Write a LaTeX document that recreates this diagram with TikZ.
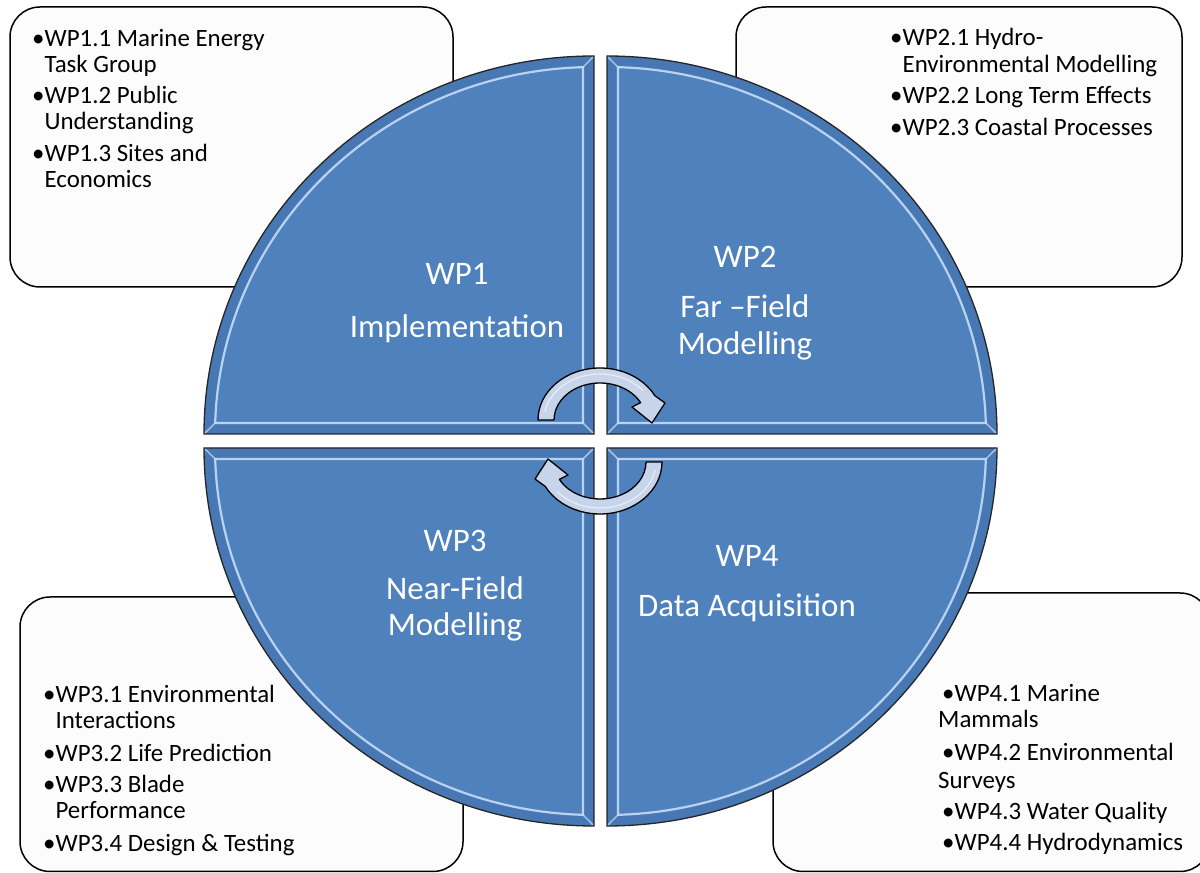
\documentclass[tikz,border=0pt]{standalone}
\usepackage{fontspec}
\setmainfont{Carlito}
\definecolor{qblue}{RGB}{79,129,189}
\definecolor{qrim}{RGB}{72,120,180}
\definecolor{qlight}{RGB}{205,226,250}
\definecolor{arrfill}{RGB}{200,212,233}
\definecolor{boxfill}{RGB}{252,252,252}
\begin{document}
\begin{tikzpicture}[x=1bp,y=1bp,
  boxst/.style={draw=black,line width=1.5bp,fill=boxfill,rounded corners=30bp},
  itm/.style={font=\fontsize{25}{30}\selectfont,anchor=base west,inner sep=0pt,text=black},
  lab/.style={font=\fontsize{33}{38}\selectfont,anchor=base,inner sep=0pt,text=white},
  quad/.pic={
    \fill[qrim] (0,0) -- (390,0) arc[start angle=0,end angle=90,x radius=390,y radius=378] -- cycle;
    \fill[qblue] (11,11) -- (1.717:379 and 367) arc[start angle=1.717,end angle=88.34,x radius=379,y radius=367] -- cycle;
    \draw[qlight,line width=2.2bp,opacity=0.85] (11,11) -- (1.717:379 and 367) arc[start angle=1.717,end angle=88.34,x radius=379,y radius=367] -- cycle;
    \draw[qlight,line width=1.5bp,opacity=0.7] (0,0) -- (11,11) (390,0) -- (1.717:379 and 367) (0,378) -- (88.34:379 and 367);
    \draw[black!85,line width=1.3bp] (0,0) -- (390,0) arc[start angle=0,end angle=90,x radius=390,y radius=378] -- cycle;
  },
  cyc/.pic={
    \filldraw[fill=arrfill,draw=black,line width=1.3bp,line join=round]
      (180:62 and 52) arc[start angle=180,end angle=28,x radius=62,y radius=52]
      -- (65,17) -- (52,-3) -- (32,13) -- (28:46 and 37)
      arc[start angle=28,end angle=180,x radius=46,y radius=37] -- cycle;
    \draw[white,line width=1.2bp,opacity=0.6]
      (170:56 and 46) arc[start angle=170,end angle=40,x radius=56,y radius=46];
  }]
\useasboundingbox (0,0) rectangle (1200,873);
\clip (0,0) rectangle (1200,873);
\fill[white] (0,0) rectangle (1200,873);

% corner boxes
\draw[boxst] (10,586) rectangle (453,866);
\draw[boxst] (736,586) rectangle (1182,866);
\draw[boxst] (20,1.5) rectangle (463,276);
\draw[boxst] (773,1.5) rectangle (1210,280);

% quadrants
\pic[xscale=-1] at (594,439) {quad};
\pic at (607,439) {quad};
\pic[xscale=-1,yscale=-1] at (594,425) {quad};
\pic[yscale=-1] at (607,425) {quad};

% cycle arrows
\pic at (600,453) {cyc};
\pic[rotate=180] at (600,411) {cyc};

% box texts
\node[itm] (a1) at (32,826) {•WP1.1 Marine Energy};
\node[itm] (a2) at (32,800) {\phantom{•}Task Group};
\node[itm] (a3) at (32,769) {•WP1.2 Public};
\node[itm] (a4) at (32,743) {\phantom{•}Understanding};
\node[itm] (a5) at (32,711) {•WP1.3 Sites and};
\node[itm] (a6) at (32,685) {\phantom{•}Economics};

\node[itm] (b1) at (890,827) {•WP2.1 Hydro-};
\node[itm] (b2) at (890,800) {\phantom{•}Environmental Modelling};
\node[itm] (b3) at (890,769) {•WP2.2 Long Term Effects};
\node[itm] (b4) at (890,737) {•WP2.3 Coastal Processes};

\node[itm] (c1) at (43,170) {•WP3.1 Environmental};
\node[itm] (c2) at (43,144) {\phantom{•}Interactions};
\node[itm] (c3) at (43,111) {•WP3.2 Life Prediction};
\node[itm] (c4) at (43,80) {•WP3.3 Blade};
\node[itm] (c5) at (43,54) {\phantom{•}Performance};
\node[itm] (c6) at (43,21) {•WP3.4 Design \& Testing};

\node[itm] (d1) at (942,171) {•WP4.1 Marine};
\node[itm] (d2) at (938,145) {Mammals};
\node[itm] (d3) at (942,112) {•WP4.2 Environmental};
\node[itm] (d4) at (938,84) {Surveys};
\node[itm] (d5) at (942,53) {•WP4.3 Water Quality};
\node[itm] (d6) at (942,22) {•WP4.4 Hydrodynamics};

% quadrant labels
\node[lab] (w1) at (457,588) {WP1};
\node[lab] (w1b) at (457,535) {Implementation};
\node[lab] (w2) at (745,605) {WP2};
\node[lab] (w2b) at (745,555) {Far –Field};
\node[lab] (w2c) at (745,518) {Modelling};
\node[lab] (w3) at (455,321) {WP3};
\node[lab] (w3b) at (455,273) {Near-Field};
\node[lab] (w3c) at (455,237) {Modelling};
\node[lab] (w4) at (747,306) {WP4};
\node[lab] (w4b) at (747,256) {Data Acquisition};
\end{tikzpicture}
\end{document}
